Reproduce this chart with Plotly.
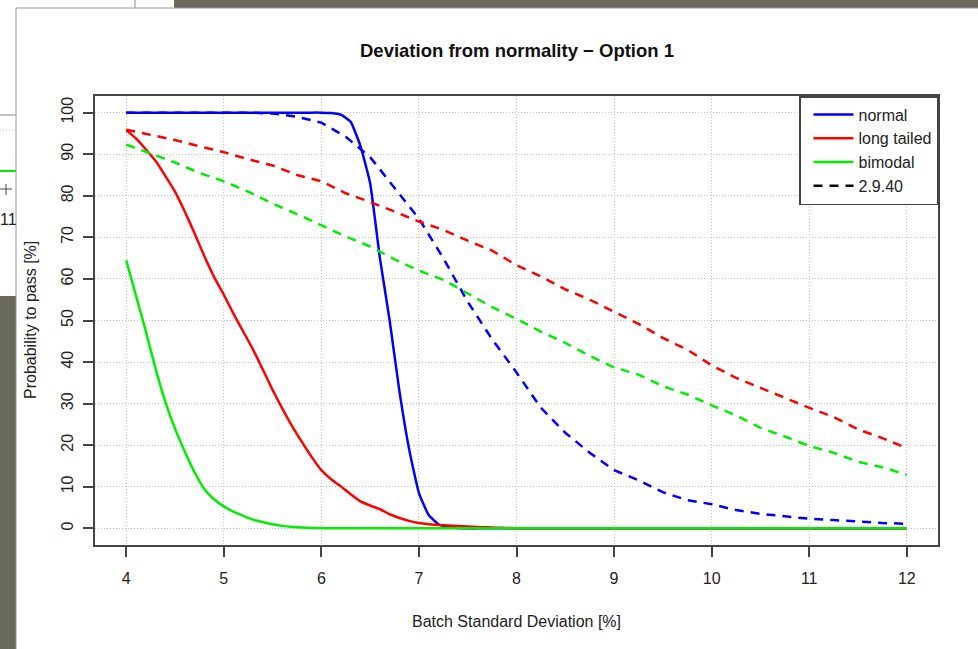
import plotly.graph_objects as go

# ---------------- data ----------------
x_fine = [4.0, 4.1, 4.2, 4.3, 4.4, 4.5, 4.6, 4.7, 4.8, 4.9,
          5.0, 5.1, 5.2, 5.3, 5.4, 5.5, 5.6, 5.7, 5.8, 5.9,
          6.0, 6.1, 6.2, 6.3, 6.4, 6.5, 6.6, 6.7, 6.8, 6.9,
          7.0, 7.1, 7.2, 7.3, 7.4, 7.5, 7.6, 7.7, 7.8, 7.9,
          8.0, 8.1, 8.2, 8.3, 8.4, 8.5, 8.6, 8.7, 8.8, 8.9,
          9.0, 9.1, 9.2, 9.3, 9.4, 9.5, 9.6, 9.7, 9.8, 9.9,
          10.0, 10.1, 10.2, 10.3, 10.4, 10.5, 10.6, 10.7, 10.8, 10.9,
          11.0, 11.1, 11.2, 11.3, 11.4, 11.5, 11.6, 11.7, 11.8, 11.9,
          12.0]

normal_solid = [100, 100, 100, 100, 100, 100, 100, 100, 100, 100,
                100, 100, 100, 100, 100, 100, 100, 100, 100, 100,
                100, 99.9, 99.5, 97.8, 92.0, 83.0, 65.0, 50.0, 33.0, 19.0,
                8.5, 3.2, 1.0, 0.3, 0.1, 0, 0, 0, 0, 0,
                0, 0, 0, 0, 0, 0, 0, 0, 0, 0,
                0, 0, 0, 0, 0, 0, 0, 0, 0, 0,
                0, 0, 0, 0, 0, 0, 0, 0, 0, 0,
                0, 0, 0, 0, 0, 0, 0, 0, 0, 0,
                0]

longtail_solid = [95.8, 93.8, 91.2, 88.4, 84.8, 81.0, 76.2, 71.0, 65.5, 60.5,
                  56.2, 51.6, 47.3, 43.0, 38.2, 33.3, 28.8, 24.6, 20.8, 17.2,
                  14.0, 11.8, 10.1, 8.2, 6.5, 5.5, 4.6, 3.4, 2.5, 1.8,
                  1.3, 1.0, 0.8, 0.7, 0.55, 0.45, 0.35, 0.25, 0.15, 0.1,
                  0.05, 0, 0, 0, 0, 0, 0, 0, 0, 0,
                  0, 0, 0, 0, 0, 0, 0, 0, 0, 0,
                  0, 0, 0, 0, 0, 0, 0, 0, 0, 0,
                  0, 0, 0, 0, 0, 0, 0, 0, 0, 0,
                  0]

bimodal_solid = [64.5, 56.0, 47.5, 38.5, 30.5, 24.0, 18.5, 13.5, 9.5, 7.0,
                 5.3, 4.0, 3.0, 2.1, 1.5, 1.0, 0.6, 0.35, 0.2, 0.1,
                 0.05, 0, 0, 0, 0, 0, 0, 0, 0, 0,
                 0, 0, 0, 0, 0, 0, 0, 0, 0, 0,
                 0, 0, 0, 0, 0, 0, 0, 0, 0, 0,
                 0, 0, 0, 0, 0, 0, 0, 0, 0, 0,
                 0, 0, 0, 0, 0, 0, 0, 0, 0, 0,
                 0, 0, 0, 0, 0, 0, 0, 0, 0, 0,
                 0]

x_coarse = [4.0, 4.25, 4.5, 4.75, 5.0, 5.25, 5.5, 5.75, 6.0, 6.25, 6.5,
            6.75, 7.0, 7.25, 7.5, 7.75, 8.0, 8.25, 8.5, 8.75, 9.0, 9.25,
            9.5, 9.75, 10.0, 10.25, 10.5, 10.75, 11.0, 11.25, 11.5, 11.75, 12.0]

normal_dashed = [100, 100, 100, 100, 100, 100, 99.8, 99.0, 97.6, 94.2, 89.3,
                 82.0, 74.5, 65.0, 54.5, 45.5, 37.5, 29.0, 23.0, 18.2, 14.0, 11.6,
                 8.7, 6.8, 5.8, 4.4, 3.5, 2.9, 2.3, 2.0, 1.6, 1.3, 1.1]

longtail_dashed = [95.9, 94.6, 93.4, 91.9, 90.5, 88.8, 87.3, 85.0, 83.5, 80.6, 78.5,
                   76.2, 73.8, 71.8, 69.2, 66.8, 63.3, 60.6, 57.5, 55.0, 52.0, 49.2,
                   45.8, 43.0, 39.2, 36.2, 33.8, 31.4, 29.0, 26.8, 23.8, 21.7, 19.3]

bimodal_dashed = [92.3, 90.2, 88.0, 85.5, 83.5, 81.0, 78.1, 75.6, 72.9, 70.2, 67.8,
                  64.7, 62.0, 59.8, 56.5, 53.2, 50.4, 47.3, 44.6, 41.5, 38.7, 37.0,
                  34.2, 32.2, 29.6, 27.2, 24.2, 22.1, 19.8, 18.2, 16.0, 14.7, 12.9]

series_names = ["normal", "long tailed", "bimodal"]
series_colors = ["#0000ff", "#ff0000", "#00ee00"]
version_label = "2.9.40"

x_ticks = [4, 5, 6, 7, 8, 9, 10, 11, 12]
y_ticks = [0, 10, 20, 30, 40, 50, 60, 70, 80, 90, 100]

title_text = "Deviation from normality \u2212 Option 1"
x_title = "Batch Standard Deviation [%]"
y_title = "Probability to pass [%]"

# ---------------- figure ----------------
FONT = "Liberation Sans, Arial, sans-serif"
TXT = "#222222"
W, H = 978, 649
L, R, T, B = 95, 40, 96, 104
PW, PH = W - L - R, H - T - B


def px(x):
    return (x - L) / PW


def py(y):
    return (H - B - y) / PH


fig = go.Figure()

solids = [normal_solid, longtail_solid, bimodal_solid]
dashes = [normal_dashed, longtail_dashed, bimodal_dashed]

for name, col, ys in zip(series_names, series_colors, solids):
    fig.add_trace(go.Scatter(x=x_fine, y=ys, mode="lines", name=name,
                             line=dict(color=col, width=2.5, shape="spline", smoothing=0.4),
                             hoverinfo="skip"))
for name, col, ys in zip(series_names, series_colors, dashes):
    fig.add_trace(go.Scatter(x=x_coarse, y=ys, mode="lines", name=name + " " + version_label,
                             showlegend=False,
                             line=dict(color=col, width=2.5, dash="9px,7px"),
                             hoverinfo="skip"))
fig.add_trace(go.Scatter(x=[None], y=[None], mode="lines", name=version_label,
                         line=dict(color="black", width=2.5, dash="9px,7px")))

dark = "#6b6b5d"
shapes = [
    dict(type="rect", xref="paper", yref="paper", x0=px(174), x1=px(W), y0=py(0), y1=py(8),
         fillcolor=dark, line_width=0, layer="below"),
    dict(type="rect", xref="paper", yref="paper", x0=px(0), x1=px(16), y0=py(296), y1=py(H),
         fillcolor=dark, line_width=0, layer="below"),
    dict(type="line", xref="paper", yref="paper", x0=px(135), x1=px(135), y0=py(0), y1=py(8),
         line=dict(color="#888888", width=1)),
    dict(type="line", xref="paper", yref="paper", x0=px(0), x1=px(16), y0=py(115), y1=py(115),
         line=dict(color="#888888", width=1)),
    dict(type="line", xref="paper", yref="paper", x0=px(0), x1=px(16), y0=py(130), y1=py(130),
         line=dict(color="#cccccc", width=1, dash="1px,2px")),
    dict(type="line", xref="paper", yref="paper", x0=px(0), x1=px(16), y0=py(171), y1=py(171),
         line=dict(color="#00ee00", width=2)),
    dict(type="line", xref="paper", yref="paper", x0=px(0), x1=px(12), y0=py(189), y1=py(189),
         line=dict(color="#444444", width=1)),
    dict(type="line", xref="paper", yref="paper", x0=px(6), x1=px(6), y0=py(184), y1=py(195),
         line=dict(color="#444444", width=1)),
    dict(type="line", xref="paper", yref="paper", x0=px(16), x1=px(W), y0=py(8), y1=py(8),
         line=dict(color="#999999", width=1)),
    dict(type="line", xref="paper", yref="paper", x0=px(16), x1=px(16), y0=py(8), y1=py(H),
         line=dict(color="#999999", width=1)),
]

annotations = [
    dict(text="<b>" + title_text + "</b>", xref="paper", yref="paper", x=px(516.5), y=py(50),
         showarrow=False, font=dict(family=FONT, size=18.5, color="#111111"),
         xanchor="center", yanchor="middle"),
    dict(text=x_title, xref="paper", yref="paper", x=px(516.5), y=py(621),
         showarrow=False, font=dict(family=FONT, size=16, color=TXT),
         xanchor="center", yanchor="middle"),
    dict(text=y_title, xref="paper", yref="paper", x=px(30), y=py(320), textangle=-90,
         showarrow=False, font=dict(family=FONT, size=16, color=TXT),
         xanchor="center", yanchor="middle"),
    dict(text="11", xref="paper", yref="paper", x=px(8), y=py(219),
         showarrow=False, font=dict(family=FONT, size=16, color=TXT),
         xanchor="center", yanchor="middle"),
]

axis_common = dict(
    showline=True, mirror=True, linecolor="#444444", linewidth=1.5,
    ticks="outside", ticklen=10, tickwidth=1.5, tickcolor="#444444",
    showgrid=True, gridcolor="#c4c4c4", gridwidth=1, griddash="1px,2px",
    zeroline=False, tickfont=dict(family=FONT, size=16, color=TXT),
)

fig.update_xaxes(range=[3.68, 12.32], tickmode="array", tickvals=x_ticks,
                 ticktext=[str(v) for v in x_ticks], ticklabelstandoff=8, **axis_common)
fig.update_yaxes(range=[-4, 104], tickmode="array", tickvals=y_ticks,
                 ticktext=[str(v) for v in y_ticks], tickangle=-90,
                 ticklabelstandoff=4, **axis_common)

fig.update_layout(
    width=W, height=H,
    margin=dict(l=L, r=R, t=T, b=B, pad=0, autoexpand=False),
    paper_bgcolor="white", plot_bgcolor="white",
    font=dict(family=FONT, size=16, color=TXT),
    shapes=shapes, annotations=annotations,
    showlegend=True,
    legend=dict(x=1, y=1, xanchor="right", yanchor="top",
                bgcolor="white", bordercolor="#444444", borderwidth=1.5,
                font=dict(family=FONT, size=16, color=TXT),
                itemwidth=40, indentation=8, tracegroupgap=0),
)

fig.write_html("out.html")
